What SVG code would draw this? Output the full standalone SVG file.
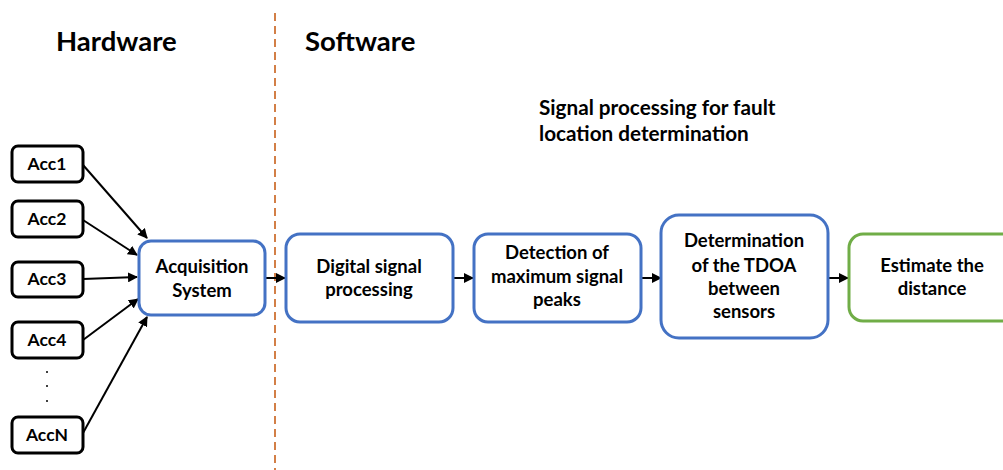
<svg xmlns="http://www.w3.org/2000/svg" width="1003" height="470" viewBox="0 0 1003 470">
<style>
text{font-family:Lato,"Open Sans","Liberation Sans",sans-serif;font-weight:bold;fill:#000;text-anchor:middle}
.title{font-size:27.5px;text-anchor:start}
.sub{font-size:20.7px;text-anchor:start}
.lbl{font-size:18.5px}
.acc{font-size:17.5px}
.accbox{fill:#fff;stroke:#000;stroke-width:3}
.blue{fill:#fff;stroke:#4472C4;stroke-width:3}
.green{fill:#fff;stroke:#70AD47;stroke-width:3}
.conn line{stroke:#000;stroke-width:2;marker-end:url(#ah)}
</style>
<defs>
<marker id="ah" viewBox="0 0 10 10" refX="9" refY="5" markerWidth="5" markerHeight="5" orient="auto" markerUnits="strokeWidth">
<path d="M0,0 L10,5 L0,10 z" fill="#000"/>
</marker>
</defs>
<rect width="1003" height="470" fill="#fff"/>
<line x1="275" y1="13" x2="275" y2="470" stroke="#C8601A" stroke-width="1.6" stroke-dasharray="8,5"/>
<text class="title" x="56" y="51">Hardware</text>
<text class="title" x="305" y="51">Software</text>
<text class="sub" x="539" y="115">Signal processing for fault</text>
<text class="sub" x="539" y="141">location determination</text>
<g class="conn">
<line x1="83" y1="165" x2="147" y2="238"/>
<line x1="83" y1="220" x2="137" y2="255"/>
<line x1="83" y1="279" x2="137" y2="277"/>
<line x1="83" y1="340" x2="138" y2="299"/>
<line x1="83" y1="433" x2="147" y2="317"/>
<line x1="265" y1="278" x2="285" y2="278"/>
<line x1="453" y1="278" x2="473" y2="278"/>
<line x1="641" y1="278" x2="661" y2="278"/>
<line x1="828" y1="278" x2="848" y2="278"/>
</g>
<g id="acc1"><rect class="accbox" x="12" y="146" width="71" height="36" rx="6"/><text class="acc" x="47" y="170">Acc1</text></g>
<g id="acc2"><rect class="accbox" x="12" y="201" width="71" height="36" rx="6"/><text class="acc" x="47" y="225">Acc2</text></g>
<g id="acc3"><rect class="accbox" x="12" y="262" width="71" height="35" rx="6"/><text class="acc" x="47" y="285">Acc3</text></g>
<g id="acc4"><rect class="accbox" x="12" y="322" width="71" height="36" rx="6"/><text class="acc" x="47" y="346">Acc4</text></g>
<g id="dots" fill="#000"><circle cx="47" cy="372" r="1"/><circle cx="47" cy="386" r="1"/><circle cx="47" cy="401" r="1"/></g>
<g id="accN"><rect class="accbox" x="12" y="417" width="71" height="36" rx="6"/><text class="acc" x="47" y="441">AccN</text></g>
<g id="acq"><rect class="blue" x="139" y="241" width="126" height="74" rx="12"/><text class="lbl" x="202" y="273">Acquisition</text><text class="lbl" x="202" y="297">System</text></g>
<g id="dsp"><rect class="blue" x="286" y="234" width="167" height="88" rx="14"/><text class="lbl" x="369" y="273">Digital signal</text><text class="lbl" x="369" y="296">processing</text></g>
<g id="detect"><rect class="blue" x="474" y="234" width="167" height="88" rx="14"/><text class="lbl" x="557" y="259">Detection of</text><text class="lbl" x="557" y="283">maximum signal</text><text class="lbl" x="557" y="306">peaks</text></g>
<g id="tdoa"><rect class="blue" x="661" y="215" width="167" height="123" rx="18"/><text class="lbl" x="744" y="247">Determination</text><text class="lbl" x="744" y="272">of the TDOA</text><text class="lbl" x="744" y="295">between</text><text class="lbl" x="744" y="318">sensors</text></g>
<g id="estimate"><rect class="green" x="849" y="234" width="170" height="87" rx="14"/><text class="lbl" x="932" y="272">Estimate the</text><text class="lbl" x="932" y="295">distance</text></g>
</svg>
